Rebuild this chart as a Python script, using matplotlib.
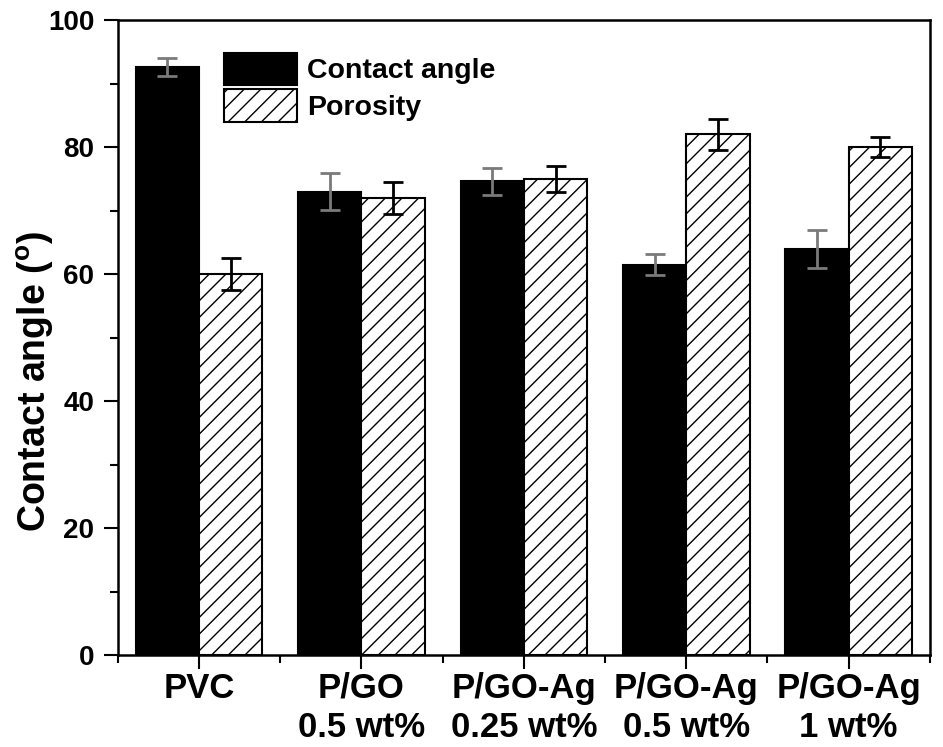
import matplotlib
matplotlib.use("Agg")
import matplotlib.pyplot as plt
import numpy as np

plt.rcParams['font.family'] = ['Liberation Sans', 'DejaVu Sans']
plt.rcParams['font.weight'] = 'bold'
plt.rcParams['mathtext.fontset'] = 'custom'
plt.rcParams['mathtext.bf'] = 'Liberation Sans:bold'
plt.rcParams['mathtext.rm'] = 'Liberation Sans:bold'
plt.rcParams['hatch.linewidth'] = 1.0

categories = ["PVC", "P/GO\n0.5 wt%", "P/GO-Ag\n0.25 wt%", "P/GO-Ag\n0.5 wt%", "P/GO-Ag\n1 wt%"]
contact_angle = [92.6, 73.0, 74.6, 61.5, 64.0]
contact_err = [1.4, 2.9, 2.1, 1.6, 3.0]
porosity = [60.0, 72.0, 75.0, 82.0, 80.0]
porosity_err = [2.5, 2.5, 2.1, 2.5, 1.6]

fig = plt.figure(figsize=(9.43, 7.47), dpi=100)
ax = fig.add_axes([0.125, 0.123, 0.861, 0.850])

x = np.arange(1, len(categories) + 1)
w = 0.39

ax.bar(x - w / 2, contact_angle, w, color='black', edgecolor='black', linewidth=1.5,
       label='Contact angle', zorder=2)
ax.bar(x + w / 2, porosity, w, color='white', edgecolor='black', linewidth=1.5,
       hatch='//', label='Porosity', zorder=2)
ax.errorbar(x - w / 2, contact_angle, yerr=contact_err, fmt='none', ecolor='#7a7a7a',
            elinewidth=2, capsize=7.5, capthick=2, zorder=3)
ax.errorbar(x + w / 2, porosity, yerr=porosity_err, fmt='none', ecolor='black',
            elinewidth=2, capsize=7.5, capthick=2, zorder=3)

ax.set_xlim(0.5, 5.5)
ax.set_ylim(0, 100)
ax.set_xticks(x)
ax.set_xticklabels(categories, fontsize=25, fontweight='bold', linespacing=1.25,
                   va='top')
ax.set_xticks(np.arange(0.5, 5.6, 1.0), minor=True)
ax.set_yticks(np.arange(0, 101, 20))
ax.set_yticks(np.arange(10, 100, 20), minor=True)
ax.tick_params(axis='y', which='major', labelsize=20, length=10, width=1.5, direction='out', pad=7)
ax.tick_params(axis='y', which='minor', length=6, width=1.5, direction='out')
ax.tick_params(axis='x', which='major', length=10, width=1.5, direction='out', pad=2)
ax.tick_params(axis='x', which='minor', length=6, width=1.5, direction='out')
for lab in ax.get_yticklabels():
    lab.set_fontweight('bold')

for s in ax.spines.values():
    s.set_linewidth(1.8)

ax.set_ylabel(r'Contact angle ($\mathbf{^o}$)', fontsize=27, fontweight='bold')
ax.yaxis.set_label_coords(-0.076, 0.431)

leg = ax.legend(loc='upper left', bbox_to_anchor=(0.131, 0.949), frameon=False,
                handlelength=2.55, handleheight=1.4, labelspacing=0.12,
                borderpad=0, borderaxespad=0, handletextpad=0.35,
                prop={'weight': 'bold', 'size': 20.5})

fig.savefig('out.png', dpi=100)
